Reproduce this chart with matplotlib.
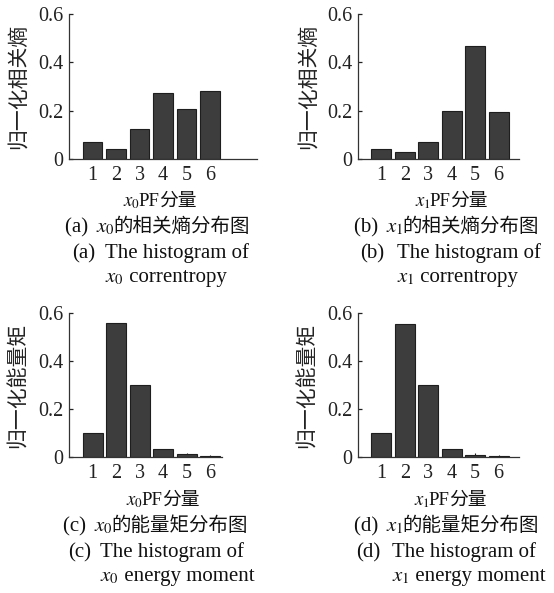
import numpy as np
import matplotlib
matplotlib.use('Agg')
import matplotlib.pyplot as plt

plt.rcParams['font.family'] = ['Liberation Serif', 'Noto Sans CJK SC']
plt.rcParams['mathtext.fontset'] = 'stix'

# 数据：归一化相关熵 / 归一化能量矩
components = [1, 2, 3, 4, 5, 6]
corr_x0 = [0.069, 0.040, 0.124, 0.274, 0.208, 0.283]
corr_x1 = [0.041, 0.030, 0.072, 0.199, 0.468, 0.193]
energy_x0 = [0.101, 0.558, 0.299, 0.033, 0.011, 0.004]
energy_x1 = [0.101, 0.556, 0.299, 0.032, 0.010, 0.004]
energy_err = [0, 0, 0, 0, 0.006, 0.006]
yticks = [0, 0.2, 0.4, 0.6]
ytick_labels = ['0', '0.2', '0.4', '0.6']

W, H = 554, 593
fig = plt.figure(figsize=(W / 100, H / 100), dpi=100)
renderer = fig.canvas.get_renderer()

EN = dict(family='Liberation Serif', fontsize=15, color='#111111')
EN_S = dict(family='Liberation Serif', fontsize=13.5, color='#111111')
ZH = dict(family='Noto Sans CJK SC', fontsize=14, color='#111111')
ZH_S = dict(family='Noto Sans CJK SC', fontsize=13.5, color='#111111')


def rect(l, r, t, b):
    return [l / W, 1 - b / H, (r - l) / W, (b - t) / H]


def fx(x):
    return x / W


def fy(y):
    return 1 - y / H


def row(x, y, pieces, center=False):
    # mathtext and CJK can't share one string, so lay pieces out side by side
    items = []
    total = 0
    for piece in pieces:
        s, kw = piece[0], piece[1]
        extra = piece[2] if len(piece) > 2 else 0
        t = fig.text(0, fy(y), s, ha='left', va='baseline', **kw)
        w = t.get_window_extent(renderer).width + extra
        if s.startswith('$'):
            w -= 1.5  # mathtext box is a bit loose
        items.append((t, w))
        total += w
    cur = x - total / 2 if center else x
    for t, w in items:
        t.set_x(fx(cur))
        cur += w


def panel(box, vals, xmax, ylabel, ylab_x, err=None):
    ax = fig.add_axes(rect(*box))
    ax.bar(components, vals, width=0.85, color='#3d3d3d', edgecolor='#1e1e1e', linewidth=0.8)
    if err is not None:
        ax.errorbar(components, vals, yerr=[np.zeros(len(err)), err], fmt='none',
                    ecolor='#1e1e1e', elinewidth=0.8, capsize=0)
    ax.set_xlim(0, xmax)
    ax.set_ylim(0, 0.6)
    ax.set_xticks(components)
    ax.set_yticks(yticks)
    ax.set_yticklabels(ytick_labels)
    ax.spines['top'].set_visible(False)
    ax.spines['right'].set_visible(False)
    for s in ['left', 'bottom']:
        ax.spines[s].set_color('#333333')
        ax.spines[s].set_linewidth(0.9)
    ax.tick_params(axis='y', direction='in', length=3, width=0.9, pad=4, labelsize=14.5, colors='#222222')
    ax.tick_params(axis='x', length=0, pad=5, labelsize=14.5, colors='#222222')
    fig.text(fx(ylab_x), fy((box[2] + box[3]) / 2), ylabel, rotation=90, ha='center', va='center',
             fontsize=15, family='Noto Sans CJK SC', color='#222222')
    return ax


panel((69, 257, 14, 159), corr_x0, 8.0, '归一化相关熵', 18)
panel((358, 519, 14, 159), corr_x1, 6.87, '归一化相关熵', 308)
panel((69, 222, 313, 457), energy_x0, 6.5, '归一化能量矩', 18, energy_err)
panel((358, 519, 313, 457), energy_x1, 6.87, '归一化能量矩', 307, energy_err)

captions = [
    # xlabel centre, y shift, tag, variable, chinese title, english 2nd line, x of zh / tag / "The"
    (160, 0, '(a)', '$x_0$', '的相关熵分布图', ' correntropy', 65, 72, 105),
    (451, 0, '(b)', '$x_1$', '的相关熵分布图', ' correntropy', 354, 360, 397),
    (163, 299, '(c)', '$x_0$', '的能量矩分布图', ' energy moment', 63, 68, 100),
    (450, 299, '(d)', '$x_1$', '的能量矩分布图', ' energy moment', 354, 356, 392),
]

for cx, dy, tag, var, zh, en2, zx, tx, hx in captions:
    row(cx, 206 + dy, [(var, EN_S), ('PF', EN_S), ('分量', ZH_S)], center=True)
    row(zx, 232 + dy, [(tag + ' ', EN, 3), (var, EN), (zh, ZH)])
    row(tx, 258 + dy, [(tag, EN)])
    row(hx, 258 + dy, [('The histogram of', EN)])
    row(hx, 282 + dy, [(var, EN, 1.5), (en2, EN)])

fig.savefig('out.png', dpi=100)
